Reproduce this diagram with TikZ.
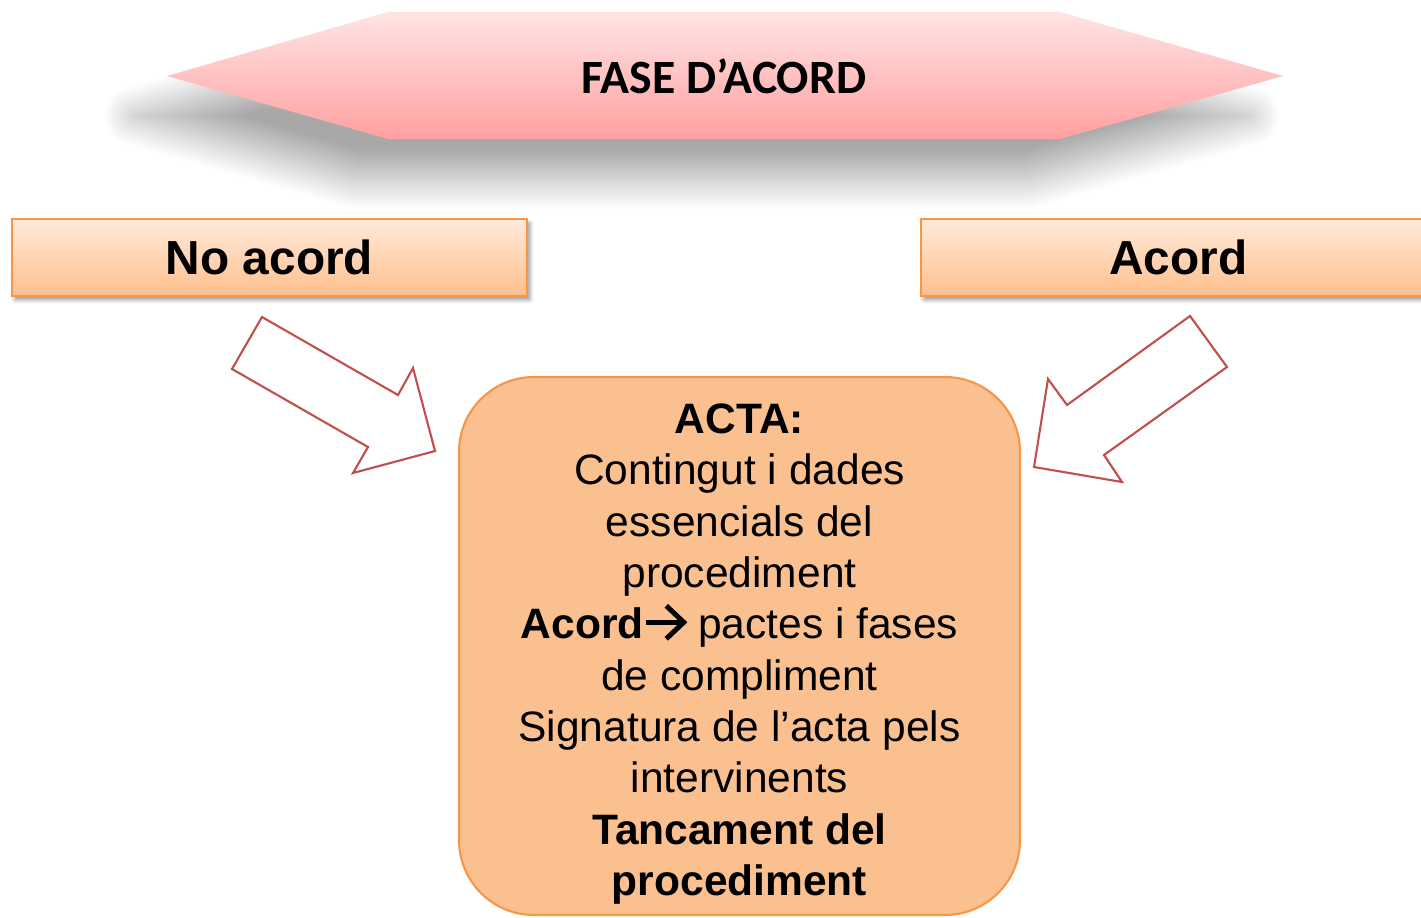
\documentclass[tikz,border=0pt]{standalone}
\usepackage{fontspec}
\setmainfont{Liberation Sans}
\newfontfamily\bannerfont{Carlito}
\usetikzlibrary{shadows.blur}
\definecolor{pinktop}{HTML}{FFE4E4}
\definecolor{pinkbot}{HTML}{FFA0A0}
\definecolor{peachtop}{HTML}{FFEADB}
\definecolor{peachbot}{HTML}{FFBF8C}
\definecolor{orangeline}{HTML}{F79646}
\definecolor{actafill}{HTML}{FAC090}
\definecolor{arrowred}{HTML}{C0504D}
\newcommand{\fletxa}{\tikz[baseline=0pt, line width=0.05cm]{\draw (0,0.165) -- (0.36,0.165); \draw[miter limit=4] (0.2,0.33) -- (0.375,0.165) -- (0.2,0);}}

\begin{document}
\begin{tikzpicture}[>=stealth]
		\tikzstyle{banner} = [top color=pinktop, bottom color=pinkbot, blur shadow={shadow xshift=-0.33cm, shadow yshift=-0.4cm, shadow blur radius=0.3cm, shadow blur steps=30, shadow opacity=34}]
		\tikzstyle{result} = [draw=orangeline, line width=0.6pt, top color=peachtop, bottom color=peachbot, minimum width=5.15cm, minimum height=0.77cm, font=\fontsize{13.6}{15}\selectfont\bfseries, blur shadow={shadow xshift=0.03cm, shadow yshift=-0.04cm, shadow blur radius=0.04cm, shadow opacity=40}]
		\tikzstyle{acta} = [draw=orangeline, line width=0.6pt, fill=actafill, rounded corners=0.75cm, minimum width=5.61cm, minimum height=5.38cm, align=center, font=\fontsize{12.1}{14.6}\selectfont]
		\tikzstyle{blockarrow} = [draw=arrowred, line width=0.6pt, fill=white, line join=miter]

		\useasboundingbox (0,0) rectangle (14.21,9.17);

		\path[banner] (1.67,8.41) -- (3.88,9.05) -- (10.60,9.05) -- (12.83,8.41) -- (10.60,7.78) -- (3.88,7.78) -- cycle;
		\node (fase) at (7.24,8.41) {\bannerfont\fontsize{13.6}{15}\selectfont\bfseries FASE D’ACORD};

		\node[result] (noacord) at (2.695,6.595) {No acord};
		\node[result] (acord) at (11.785,6.595) {Acord};

		\node[acta] (acta) at (7.395,2.71) {};
		\node[align=center, font=\fontsize{12.1}{14.6}\selectfont] (actatext) at (7.395,2.63) {\textbf{ACTA:}\\
			Contingut i dades\\
			essencials del\\
			procediment\\
			\textbf{Acord}\fletxa\ pactes i fases\\
			de compliment\\
			Signatura de l’acta pels\\
			intervinents\\
			\textbf{Tancament del}\\
			\textbf{procediment}};

		\draw[blockarrow] (2.62,6.00) -- (2.32,5.48) -- (3.68,4.70) -- (3.53,4.44) -- (4.35,4.66) -- (4.13,5.49) -- (3.98,5.22) -- cycle;
		\draw[blockarrow] (11.90,6.01) -- (12.27,5.50) -- (11.04,4.62) -- (11.22,4.35) -- (10.34,4.50) -- (10.48,5.38) -- (10.67,5.12) -- cycle;
\end{tikzpicture}
\end{document}
